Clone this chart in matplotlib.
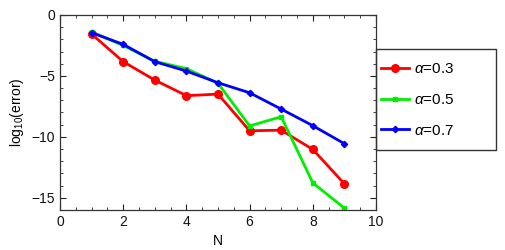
import matplotlib
matplotlib.use('Agg')
from matplotlib import pyplot as plt
from matplotlib.ticker import MultipleLocator
from matplotlib.patches import Rectangle

plt.rcParams['font.family'] = ['Liberation Sans', 'DejaVu Sans']
plt.rcParams['mathtext.fontset'] = 'custom'
plt.rcParams['mathtext.it'] = 'Liberation Sans:italic'
plt.rcParams['mathtext.rm'] = 'Liberation Sans'

N = [1, 2, 3, 4, 5, 6, 7, 8, 9]
err_03 = [-1.56, -3.83, -5.34, -6.62, -6.49, -9.5, -9.45, -11.03, -13.85]
err_05 = [-1.4, -2.5, -3.8, -4.4, -5.6, -9.1, -8.35, -13.77, -15.85]
err_07 = [-1.45, -2.41, -3.83, -4.6, -5.56, -6.38, -7.72, -9.08, -10.56]
labels = [r'$\alpha$=0.3', r'$\alpha$=0.5', r'$\alpha$=0.7']

fig = plt.figure(figsize=(5.06, 2.5), dpi=100)
ax = fig.add_axes([60 / 506, 40 / 250, 316 / 506, 195 / 250])

ax.plot(N, err_03, color='#ff0000', lw=2, marker='o', ms=5.5, label=labels[0])
ax.plot(N, err_05, color='#00ee00', lw=2, marker='s', ms=3.5, label=labels[1])
ax.plot(N, err_07, color='#0000ff', lw=2, marker='D', ms=3.2, label=labels[2])

ax.set_xlim(0, 10)
ax.set_ylim(-16, 0)
ax.xaxis.set_major_locator(MultipleLocator(2))
ax.xaxis.set_minor_locator(MultipleLocator(0.5))
ax.yaxis.set_major_locator(MultipleLocator(5))
ax.yaxis.set_minor_locator(MultipleLocator(1))
ax.tick_params(which='both', direction='in', top=True, right=True,
               labelsize=10, colors='#222222', labelcolor='#111111')
ax.tick_params(which='major', length=4, width=0.8)
ax.tick_params(which='minor', length=2, width=0.6)
for s in ax.spines.values():
    s.set_linewidth(0.9)
    s.set_color('#333333')

ax.set_xlabel('N', fontsize=10, labelpad=4)
ax.set_ylabel(r'log$_{10}$(error)', fontsize=10)

# legend box drawn separately (it is wider than its contents)
fig.patches.append(Rectangle((376 / 506, 1 - 150 / 250), 120 / 506, 101 / 250,
                             transform=fig.transFigure, fill=False,
                             edgecolor='#333333', lw=1.0))
leg = fig.legend(loc='upper left', bbox_to_anchor=(378 / 506, 1 - 59 / 250),
                 frameon=False, fontsize=11,
                 handlelength=1.85, labelspacing=1.1, borderpad=0.2,
                 handletextpad=0.3, borderaxespad=0)

fig.savefig('out.png', dpi=100)
